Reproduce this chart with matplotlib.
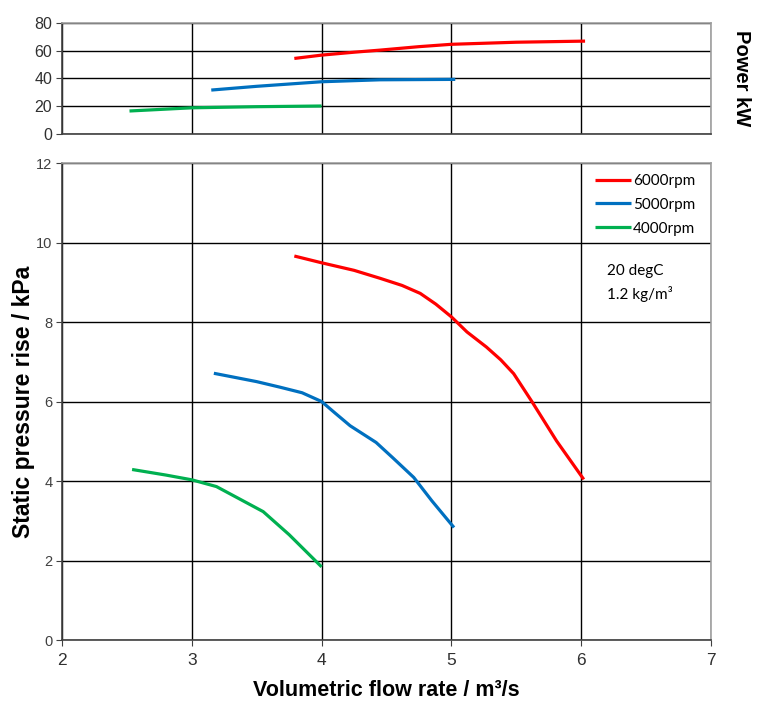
#!/usr/bin/env python3
"""Fan curves: static pressure rise and power vs volumetric flow rate."""

import matplotlib

matplotlib.use("Agg")
import matplotlib.pyplot as plt

# 6000 rpm
q_6000 = [3.79, 4.0, 4.25, 4.45, 4.62, 4.76, 4.88, 5.0, 5.12, 5.27, 5.38,
          5.48, 5.62, 5.81, 6.02]
p_6000 = [9.66, 9.49, 9.30, 9.10, 8.92, 8.72, 8.45, 8.13, 7.75, 7.37, 7.05,
          6.70, 6.00, 5.01, 4.04]
# 5000 rpm
q_5000 = [3.17, 3.5, 3.68, 3.85, 4.0, 4.1, 4.22, 4.42, 4.55, 4.71, 4.85, 5.02]
p_5000 = [6.71, 6.50, 6.36, 6.22, 6.00, 5.72, 5.39, 4.97, 4.58, 4.09, 3.50, 2.83]
# 4000 rpm
q_4000 = [2.54, 2.8, 3.0, 3.19, 3.35, 3.55, 3.75, 4.0]
p_4000 = [4.29, 4.15, 4.03, 3.86, 3.58, 3.23, 2.65, 1.84]

# power curves
qw_6000 = [3.79, 4.0, 4.25, 4.45, 4.75, 5.0, 5.5, 6.03]
w_6000 = [54.3, 56.7, 58.8, 60.3, 62.8, 64.5, 66.0, 66.8]
qw_5000 = [3.15, 3.5, 4.0, 4.45, 5.03]
w_5000 = [31.5, 34.2, 37.5, 38.9, 39.2]
qw_4000 = [2.52, 3.0, 3.5, 4.0]
w_4000 = [16.4, 18.7, 19.5, 20.0]

labels = ["6000rpm", "5000rpm", "4000rpm"]
colors = ["#ff0000", "#0070c0", "#00b050"]

x_ticks = [2, 3, 4, 5, 6, 7]
p_ticks = [0, 2, 4, 6, 8, 10, 12]
w_ticks = [0, 20, 40, 60, 80]

ARIAL = ["Liberation Sans", "DejaVu Sans"]
CALIBRI = ["Lato", "DejaVu Sans"]


def style_axes(ax):
    ax.grid(True, color="black", linewidth=1.0)
    ax.set_axisbelow(True)
    for side in ("top", "right"):
        ax.spines[side].set_color("#a0a0a0")
    for side in ("left", "bottom"):
        ax.spines[side].set_color("#404040")
    for s in ax.spines.values():
        s.set_linewidth(1.2)


def main() -> None:
    fig = plt.figure(figsize=(7.57, 7.02), dpi=100)
    ax = fig.add_axes([0.0819, 0.0883, 0.8573, 0.6795])
    axp = fig.add_axes([0.0819, 0.8095, 0.8573, 0.158])

    # main pressure chart
    for q, p, lab, c in zip([q_6000, q_5000, q_4000], [p_6000, p_5000, p_4000],
                            labels, colors):
        ax.plot(q, p, color=c, linewidth=2.3, label=lab,
                solid_capstyle="butt", solid_joinstyle="round")
    ax.set_xlim(2, 7)
    ax.set_ylim(0, 12)
    ax.set_xticks(x_ticks)
    ax.set_yticks(p_ticks)
    style_axes(ax)
    ax.tick_params(axis="x", length=4, color="#404040", pad=5,
                   labelsize=12.5, labelcolor="#303030")
    ax.tick_params(axis="y", length=4, color="#404040", pad=3,
                   labelsize=10.5, labelcolor="#404040")
    for t in ax.get_xticklabels() + ax.get_yticklabels():
        t.set_family(ARIAL)
    ax.set_xlabel("Volumetric flow rate / m\u00b3/s", family=ARIAL,
                  fontsize=15.5, fontweight="bold", labelpad=9)
    ax.set_ylabel("Static pressure rise / kPa", family=ARIAL,
                  fontsize=16.5, fontweight="bold", labelpad=1)

    ax.legend(loc="upper left", bbox_to_anchor=(0.821, 0.977), frameon=False,
              borderpad=0, borderaxespad=0, handlelength=2.4,
              handletextpad=0.1, labelspacing=0.64,
              prop={"family": CALIBRI, "size": 11})
    ax.text(6.2, 8.98, "20 degC\n1.2 kg/m\u00b3", va="center", ha="left",
            fontsize=11, family=CALIBRI, linespacing=1.6)

    # power chart
    for q, w, c in zip([qw_6000, qw_5000, qw_4000], [w_6000, w_5000, w_4000],
                       colors):
        axp.plot(q, w, color=c, linewidth=2.3, solid_capstyle="butt",
                 solid_joinstyle="round")
    axp.set_xlim(2, 7)
    axp.set_ylim(0, 80)
    axp.set_xticks(x_ticks)
    axp.set_yticks(w_ticks)
    style_axes(axp)
    axp.tick_params(axis="x", length=0, labelbottom=False)
    axp.tick_params(axis="y", length=4, color="#404040", pad=3,
                    labelsize=11.5, labelcolor="#303030")
    for t in axp.get_yticklabels():
        t.set_family(ARIAL)
    axp.yaxis.set_label_position("right")
    axp.set_ylabel("Power kW", family=ARIAL, fontsize=14.5,
                   fontweight="bold", rotation=-90, labelpad=29)

    fig.savefig("out.png", dpi=100)


if __name__ == "__main__":
    main()
